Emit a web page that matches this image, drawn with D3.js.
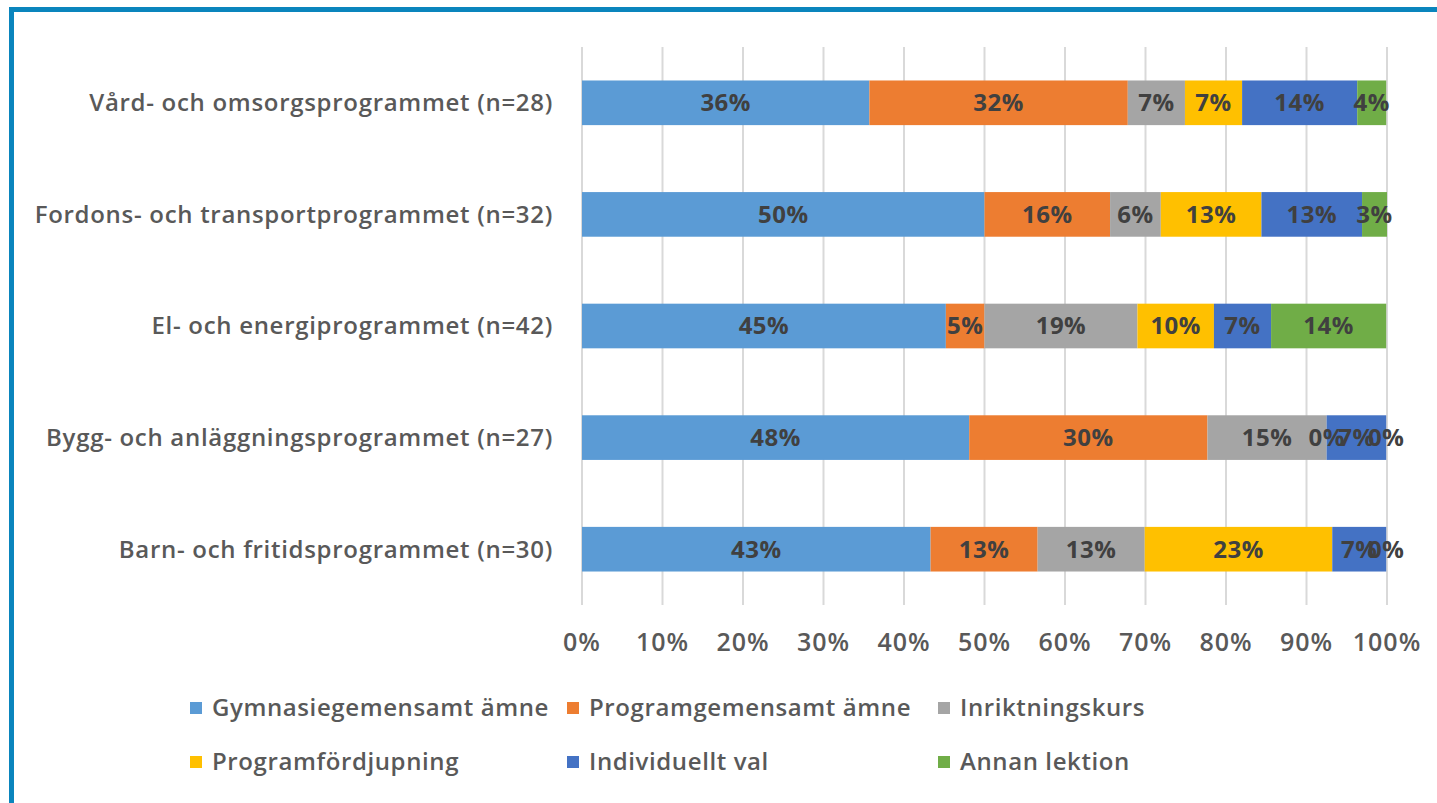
<!DOCTYPE html>
<html>
<head>
<meta charset="utf-8">
<script src="https://cdn.jsdelivr.net/npm/d3@7"></script>
<style>
  html, body { margin: 0; padding: 0; background: #fff; }
  svg { display: block; }
</style>
</head>
<body>
<div id="chart"></div>
<script>
const W = 1437, H = 803;
const TEXT = '#595959';
const LABEL = '#404040';
const FONT = '"Open Sans", "Noto Sans", sans-serif';

// programmes, top to bottom
const programmes = [
  'Vård- och omsorgsprogrammet (n=28)',
  'Fordons- och transportprogrammet (n=32)',
  'El- och energiprogrammet (n=42)',
  'Bygg- och anläggningsprogrammet (n=27)',
  'Barn- och fritidsprogrammet (n=30)'
];

const seriesNames = [
  'Gymnasiegemensamt ämne',
  'Programgemensamt ämne',
  'Inriktningskurs',
  'Programfördjupning',
  'Individuellt val',
  'Annan lektion'
];
const seriesColors = ['#5b9bd5', '#ed7d31', '#a5a5a5', '#ffc000', '#4472c4', '#70ad47'];

// percent per series, one value per programme (same order as programmes)
const gymnasiegemensamt = [35.7, 50.0, 45.2, 48.1, 43.3];
const programgemensamt  = [32.1, 15.6,  4.8, 29.6, 13.3];
const inriktningskurs   = [ 7.1,  6.3, 19.0, 14.8, 13.3];
const programfordjupning= [ 7.1, 12.5,  9.5,  0.0, 23.3];
const individuelltVal   = [14.3, 12.5,  7.1,  7.4,  6.7];
const annanLektion      = [ 3.6,  3.1, 14.3,  0.0,  0.0];

const xTicks = [0, 10, 20, 30, 40, 50, 60, 70, 80, 90, 100];

const seriesValues = [gymnasiegemensamt, programgemensamt, inriktningskurs,
                      programfordjupning, individuelltVal, annanLektion];

const rows = programmes.map((p, i) => {
  const r = { name: p };
  seriesNames.forEach((s, j) => { r[s] = seriesValues[j][i]; });
  return r;
});

const stacked = d3.stack().keys(seriesNames)(rows);

const svg = d3.select('#chart').append('svg')
  .attr('width', W).attr('height', H);

svg.append('rect').attr('width', W).attr('height', H).attr('fill', '#fff');

const x = d3.scaleLinear().domain([0, 100]).range([582, 1387]);
const y = d3.scaleBand().domain(programmes).range([47, 605])
  .paddingInner(0.6).paddingOuter(0.3);

// gridlines
svg.append('g').selectAll('line')
  .data(xTicks)
  .join('line')
  .attr('x1', d => x(d)).attr('x2', d => x(d))
  .attr('y1', 47).attr('y2', 605)
  .attr('stroke', '#d9d9d9')
  .attr('stroke-width', 2);

// bars
const layer = svg.append('g').selectAll('g')
  .data(stacked)
  .join('g')
  .attr('fill', (d, i) => seriesColors[i]);

layer.selectAll('rect')
  .data(d => d)
  .join('rect')
  .attr('x', d => x(d[0]))
  .attr('y', d => y(d.data.name))
  .attr('width', d => x(d[1]) - x(d[0]))
  .attr('height', y.bandwidth());

// data labels
const labels = svg.append('g');
stacked.forEach(s => {
  labels.selectAll(null)
    .data(s)
    .join('text')
    .attr('x', d => x((d[0] + d[1]) / 2))
    .attr('y', d => y(d.data.name) + y.bandwidth() / 2)
    .attr('dy', '0.35em')
    .attr('text-anchor', 'middle')
    .attr('font-family', FONT)
    .attr('font-weight', 700)
    .attr('font-size', 24)
    .attr('letter-spacing', 0.5)
    .attr('fill', LABEL)
    .text(d => Math.round(d[1] - d[0]) + '%');
});

// category labels
svg.append('g').selectAll('text')
  .data(programmes)
  .join('text')
  .attr('x', 553)
  .attr('y', d => y(d) + y.bandwidth() / 2)
  .attr('dy', '0.35em')
  .attr('text-anchor', 'end')
  .attr('font-family', FONT)
  .attr('font-weight', 600)
  .attr('font-size', 24)
  .attr('letter-spacing', 0.7)
  .attr('fill', TEXT)
  .text(d => d);

// x tick labels
svg.append('g').selectAll('text')
  .data(xTicks)
  .join('text')
  .attr('x', d => x(d))
  .attr('y', 642)
  .attr('dy', '0.35em')
  .attr('text-anchor', 'middle')
  .attr('font-family', FONT)
  .attr('font-weight', 600)
  .attr('font-size', 25)
  .attr('letter-spacing', 1)
  .attr('fill', TEXT)
  .text(d => d + '%');

// legend
const legendX = [190, 567, 938];
const legendY = [708, 762];
const lg = svg.append('g').selectAll('g')
  .data(seriesNames)
  .join('g')
  .attr('transform', (d, i) => `translate(${legendX[i % 3]},${legendY[Math.floor(i / 3)]})`);
lg.append('rect')
  .attr('x', 0).attr('y', -6)
  .attr('width', 12).attr('height', 12)
  .attr('fill', (d, i) => seriesColors[i]);
lg.append('text')
  .attr('x', 22).attr('y', 0)
  .attr('dy', '0.35em')
  .attr('font-family', FONT)
  .attr('font-weight', 600)
  .attr('font-size', 24)
  .attr('letter-spacing', 0.6)
  .attr('fill', TEXT)
  .text(d => d);

// frame (top and left edges)
svg.append('path')
  .attr('d', `M11.5,${H} V9.5 H${W}`)
  .attr('fill', 'none')
  .attr('stroke', '#0a85bd')
  .attr('stroke-width', 5);
</script>
</body>
</html>
